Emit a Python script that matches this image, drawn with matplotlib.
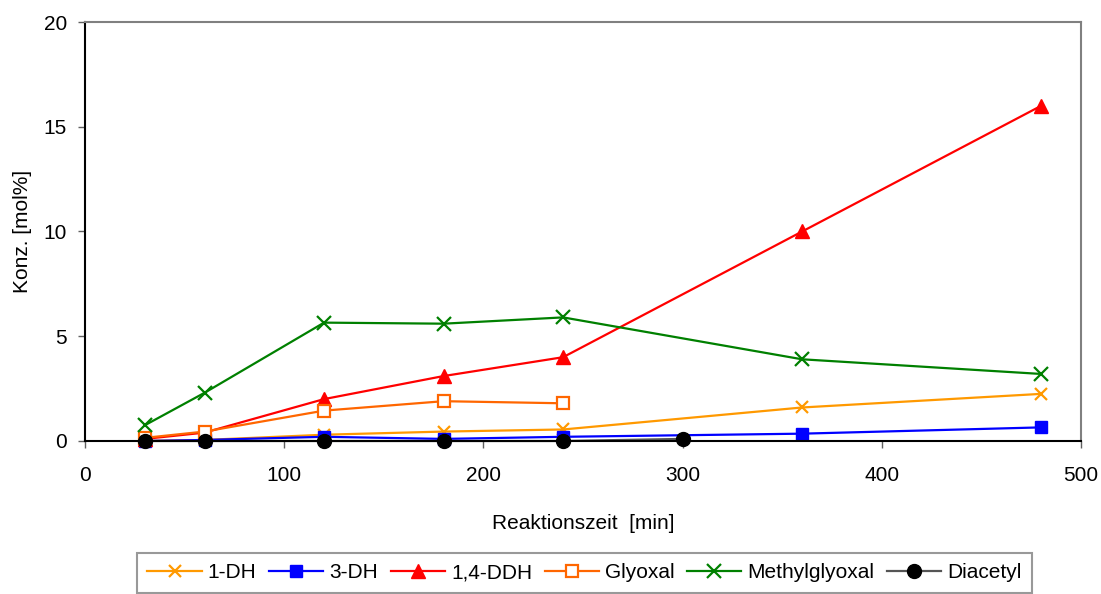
import matplotlib
matplotlib.use("Agg")
import matplotlib.pyplot as plt

plt.rcParams['font.family'] = ['Liberation Sans', 'DejaVu Sans']

# Reaktionszeit [min]
zeit = [30, 60, 120, 180, 240, 360, 480]
zeit_glyoxal = [30, 60, 120, 180, 240]
zeit_diacetyl = [30, 60, 120, 180, 240, 300]

# Konz. [mol%]
dh1 = [0.0, 0.05, 0.3, 0.45, 0.55, 1.6, 2.25]
dh3 = [0.0, 0.05, 0.2, 0.1, 0.2, 0.35, 0.65]
ddh14 = [0.1, 0.4, 2.0, 3.1, 4.0, 10.0, 16.0]
glyoxal = [0.15, 0.45, 1.45, 1.9, 1.8]
methylglyoxal = [0.75, 2.3, 5.65, 5.6, 5.9, 3.9, 3.2]
diacetyl = [0.0, 0.0, 0.0, 0.0, 0.0, 0.1]

fig = plt.figure(figsize=(11.01, 5.94), dpi=100)
ax = fig.add_axes([85 / 1101, 1 - 441 / 594, (1081 - 85) / 1101, (441 - 22) / 594])

lw = 1.6
ms = 9
ax.plot(zeit, dh1, color='#FF9900', lw=lw, marker='x', ms=ms, mew=1.6, label='1-DH', clip_on=False)
ax.plot(zeit, dh3, color='#0000FF', lw=lw, marker='s', ms=ms, label='3-DH', clip_on=False)
ax.plot(zeit, ddh14, color='#FF0000', lw=lw, marker='^', ms=ms + 1, label='1,4-DDH', clip_on=False)
ax.plot(zeit_glyoxal, glyoxal, color='#FF6600', lw=lw, marker='s', ms=ms, mfc='white',
        mew=1.6, label='Glyoxal', clip_on=False)
ax.plot(zeit, methylglyoxal, color='#008000', lw=lw, marker='x', ms=ms + 1, mew=1.6,
        label='Methylglyoxal', clip_on=False)
ax.plot(zeit_diacetyl, diacetyl, color='#555555', lw=lw, marker='o', ms=ms + 1, mfc='black',
        mec='black', label='Diacetyl', clip_on=False)

ax.set_xlim(0, 500)
ax.set_ylim(0, 20)
ax.set_xticks([0, 100, 200, 300, 400, 500])
ax.set_yticks([0, 5, 10, 15, 20])

for s in ['top', 'right']:
    ax.spines[s].set_color('#808080')
    ax.spines[s].set_linewidth(1.5)
for s in ['left', 'bottom']:
    ax.spines[s].set_color('black')
    ax.spines[s].set_linewidth(1.5)

ax.tick_params(axis='y', direction='out', length=5, width=1, color='#606060',
               labelsize=15, pad=8)
ax.tick_params(axis='x', direction='out', length=5, width=1, color='#606060',
               labelsize=15, pad=13)

ax.set_xlabel('Reaktionszeit  [min]', fontsize=15, labelpad=21)
ax.set_ylabel('Konz. [mol%]', fontsize=15, labelpad=8)

leg = fig.legend(loc='upper left', bbox_to_anchor=(137 / 1101, 1 - 553 / 594), ncol=6,
                 fontsize=15, frameon=True, fancybox=False, edgecolor='#808080',
                 handlelength=2.6, handletextpad=0.3, columnspacing=0.6,
                 borderpad=0.5, borderaxespad=0)
leg.get_frame().set_linewidth(1.5)

fig.savefig('out.png', dpi=100)
